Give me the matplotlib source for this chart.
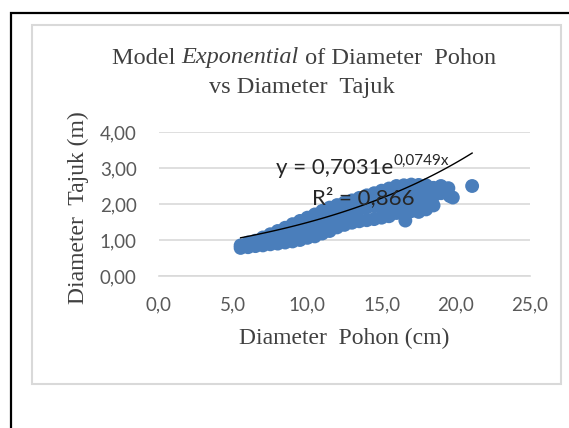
import numpy as np
import matplotlib
matplotlib.use('Agg')
from matplotlib import pyplot as plt
from matplotlib.patches import Rectangle
from matplotlib.offsetbox import TextArea, HPacker, AnnotationBbox

# diameter pohon (cm) vs diameter tajuk (m)
diam_pohon = [
    5.5, 5.5, 6.0, 6.0, 6.5, 6.5, 7.0, 7.0, 7.5, 7.5, 8.0, 8.0,
    8.5, 8.5, 8.5, 9.0, 9.0, 9.0, 9.5, 9.5, 9.5, 10.0, 10.0, 10.0,
    10.5, 10.5, 10.5, 11.0, 11.0, 11.0, 11.5, 11.5, 11.5, 12.0, 12.0, 12.0,
    12.5, 12.5, 12.5, 13.0, 13.0, 13.0, 13.5, 13.5, 13.5, 14.0, 14.0, 14.0,
    14.5, 14.5, 14.5, 15.0, 15.0, 15.0, 15.0, 15.5, 15.5, 15.5, 15.5,
    16.0, 16.0, 16.0, 16.0, 16.5, 16.5, 16.5, 16.5, 16.6,
    17.0, 17.0, 17.0, 17.0, 17.5, 17.5, 17.5, 17.5, 18.0, 18.0, 18.0, 18.0,
    18.5, 18.5, 18.5, 19.0, 19.0, 19.5, 19.6, 19.8, 21.1,
]
diam_tajuk = [
    0.85, 0.78, 0.93, 0.80, 0.98, 0.83, 1.07, 0.85, 1.16, 0.88, 1.25, 0.90,
    1.34, 1.12, 0.93, 1.44, 1.20, 0.96, 1.53, 1.27, 1.00, 1.62, 1.34, 1.06,
    1.71, 1.40, 1.10, 1.81, 1.50, 1.18, 1.90, 1.58, 1.25, 1.97, 1.66, 1.35,
    2.04, 1.73, 1.42, 2.10, 1.79, 1.48, 2.17, 1.85, 1.52, 2.24, 1.90, 1.55,
    2.30, 1.94, 1.58, 2.37, 2.12, 1.88, 1.62, 2.43, 2.18, 1.93, 1.66,
    2.50, 2.25, 2.00, 1.75, 2.52, 2.28, 2.03, 1.78, 1.54,
    2.54, 2.30, 2.05, 1.80, 2.53, 2.30, 2.05, 1.78, 2.52, 2.30, 2.05, 1.85,
    2.45, 2.22, 1.96, 2.50, 2.30, 2.44, 2.22, 2.18, 2.50,
]

# exponential trend from the chart label
coef_a = 0.7031
coef_b = 0.0749

x_ticks = [0, 5, 10, 15, 20, 25]
y_ticks = [0, 1, 2, 3, 4]

W, H = 569, 428
SERIF = 'Liberation Serif'
SANS = 'Lato'
fig = plt.figure(figsize=(W / 100, H / 100), dpi=100)

# black outer frame (runs off the right and bottom edge)
fig.patches.append(Rectangle((11 / W, -0.1), 1.2, 1 - 13 / H + 0.1,
                             transform=fig.transFigure, fill=False,
                             edgecolor='black', lw=1.6))
# light grey chart box
fig.patches.append(Rectangle((32 / W, 1 - 384 / H), (561 - 32) / W, (384 - 25) / H,
                             transform=fig.transFigure, fill=False,
                             edgecolor='#d9d9d9', lw=1.5))

ax = fig.add_axes([159 / W, 1 - 276 / H, (530 - 159) / W, (276 - 132) / H])
ax.set_xlim(0, 25)
ax.set_ylim(0, 4)
ax.set_xticks(x_ticks)
ax.set_yticks(y_ticks)
ax.set_xticklabels([('%.1f' % v).replace('.', ',') for v in x_ticks],
                   family=SANS, fontsize=13.5, color='#595959')
ax.set_yticklabels([('%.2f' % v).replace('.', ',') for v in y_ticks],
                   family=SANS, fontsize=13.5, color='#595959')
ax.tick_params(length=0)
ax.tick_params(axis='x', pad=15)
ax.tick_params(axis='y', pad=16)
for s in ['top', 'right', 'left']:
    ax.spines[s].set_visible(False)
ax.spines['bottom'].set_color('#d9d9d9')
ax.spines['bottom'].set_linewidth(1.2)
ax.grid(axis='y', color='#d9d9d9', lw=1.2)
ax.set_axisbelow(True)

ax.scatter(diam_pohon, diam_tajuk, s=100, color='#4a7ebb', edgecolors='none', zorder=2)

xt = np.linspace(min(diam_pohon), max(diam_pohon), 100)
ax.plot(xt, coef_a * np.exp(coef_b * xt), color='black', lw=1.0, zorder=3)

# trend label
eq = fig.text(276 / W, 1 - 168 / H, 'y = 0,7031e', family=SANS, fontsize=16,
              color='#262626', va='center', ha='left', zorder=5)
ax.annotate('0,0749x', xy=(1.0, 0.5), xycoords=eq, family=SANS, fontsize=11,
            color='#262626', va='bottom', ha='left', zorder=5)
fig.text(363 / W, 1 - 198 / H, 'R² = 0,866', family=SANS, fontsize=16,
         color='#262626', va='center', ha='center', zorder=5)

# title with italic word
tprops = dict(family=SERIF, fontsize=17.5, color='#404040')
parts = [TextArea('Model ', textprops=tprops),
         TextArea('Exponential', textprops=dict(tprops, style='italic')),
         TextArea(' of Diameter  Pohon', textprops=tprops)]
row = HPacker(children=parts, pad=0, sep=0, align='baseline')
ab = AnnotationBbox(row, (304 / W, 1 - 58 / H), xycoords='figure fraction',
                    frameon=False, box_alignment=(0.5, 0.5), pad=0)
fig.add_artist(ab)
fig.text(302 / W, 1 - 88 / H, 'vs Diameter  Tajuk', ha='center', va='center', **tprops)

fig.text(344 / W, 1 - 338 / H, 'Diameter  Pohon (cm)', family=SERIF,
         fontsize=17, color='#404040', ha='center', va='center')
fig.text(78 / W, 1 - 208 / H, 'Diameter  Tajuk (m)', family=SERIF,
         fontsize=17, color='#404040', ha='center', va='center', rotation=90)

fig.savefig('out.png', dpi=100)
